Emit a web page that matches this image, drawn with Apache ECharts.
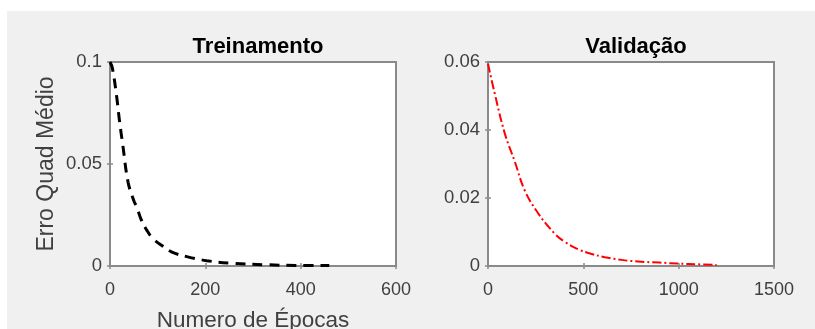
<!DOCTYPE html>
<html>
<head>
<meta charset="utf-8">
<script src="https://cdn.jsdelivr.net/npm/echarts@6/dist/echarts.min.js"></script>
<style>
html,body{margin:0;padding:0;background:#fff;}
#chart{width:815px;height:329px;}
</style>
</head>
<body>
<div id="chart"></div>
<script>
// Training (Treinamento) curve
var trainEpochs = [0, 5, 14, 20, 27, 38, 50, 56, 65, 77, 90, 112, 130, 161, 203, 259, 329, 390, 460];
var trainMse    = [0.100, 0.097, 0.083, 0.071, 0.059, 0.041, 0.032, 0.029, 0.023, 0.0176, 0.0135, 0.0095, 0.0068, 0.0046, 0.0026, 0.0013, 0.0006, 0.0003, 0.0002];
// Validation (Validação) curve
var valEpochs = [0, 35, 88, 140, 193, 263, 350, 400, 473, 540, 613, 700, 788, 900, 998, 1100, 1199];
var valMse    = [0.0595, 0.0508, 0.039, 0.0308, 0.0222, 0.0155, 0.0095, 0.0072, 0.0049, 0.0036, 0.0026, 0.0018, 0.0013, 0.0010, 0.0007, 0.0005, 0.0003];

var titles = ['Treinamento', 'Validação'];
var xLabel = 'Numero de Épocas';
var yLabel = 'Erro Quad Médio';
var xRanges = [[0, 600, 200], [0, 1500, 500]];
var yRanges = [[0, 0.1, 0.05], [0, 0.06, 0.02]];

var FONT = "'Liberation Sans', Arial, Helvetica, sans-serif";
var boxColor = '#8a8a8a';
var textColor = '#404040';

var grids = [
  {left: 110, top: 62, width: 286, height: 204},
  {left: 488, top: 62, width: 286, height: 204}
];

function pairs(xs, ys) { return xs.map(function (x, i) { return [x, ys[i]]; }); }
function plain(v) { return String(v); }

var xAxes = [], yAxes = [];
grids.forEach(function (g, i) {
  var xr = xRanges[i], yr = yRanges[i];
  xAxes.push({
    type: 'value', gridIndex: i, position: 'bottom',
    min: xr[0], max: xr[1], interval: xr[2],
    axisLine: {show: false},
    axisTick: {show: true, inside: true, length: 3, lineStyle: {color: boxColor, width: 1.5}},
    splitLine: {show: false},
    axisLabel: {color: textColor, fontSize: 18, fontFamily: FONT, margin: 15, formatter: plain},
    name: i === 0 ? xLabel : '',
    nameLocation: 'middle', nameGap: 43,
    nameTextStyle: {color: textColor, fontSize: 22.5, fontFamily: FONT}
  });
  xAxes.push({
    type: 'value', gridIndex: i, position: 'top',
    min: xr[0], max: xr[1], interval: xr[2],
    axisLine: {show: false},
    axisTick: {show: true, inside: true, length: 3, lineStyle: {color: boxColor, width: 1.5}},
    splitLine: {show: false}, axisLabel: {show: false}
  });
  yAxes.push({
    type: 'value', gridIndex: i, position: 'left',
    min: yr[0], max: yr[1], interval: yr[2],
    axisLine: {show: false},
    axisTick: {show: true, inside: true, length: 3, lineStyle: {color: boxColor, width: 1.5}},
    splitLine: {show: false},
    axisLabel: {color: textColor, fontSize: 18.5, fontFamily: FONT, margin: 8, formatter: plain,
                padding: [6, 0, 0, 0]},
    name: i === 0 ? yLabel : '',
    nameLocation: 'middle', nameGap: 52,
    nameTextStyle: {color: textColor, fontSize: 23, fontFamily: FONT}
  });
  yAxes.push({
    type: 'value', gridIndex: i, position: 'right',
    min: yr[0], max: yr[1], interval: yr[2],
    axisLine: {show: false},
    axisTick: {show: true, inside: true, length: 3, lineStyle: {color: boxColor, width: 1.5}},
    splitLine: {show: false}, axisLabel: {show: false}
  });
});

var chart = echarts.init(document.getElementById('chart'), null, {renderer: 'canvas'});
chart.setOption({
  backgroundColor: '#ffffff',
  animation: false,
  graphic: [{
    type: 'rect', z: -10, silent: true,
    shape: {x: 7, y: 11, width: 815 - 7, height: 329 - 11},
    style: {fill: '#f0f0f0'}
  }],
  title: [
    {text: titles[0], left: 253, top: 31, textAlign: 'center',
     textStyle: {fontSize: 22, fontWeight: 'bold', color: '#000', fontFamily: FONT}},
    {text: titles[1], left: 631, top: 31, textAlign: 'center',
     textStyle: {fontSize: 22, fontWeight: 'bold', color: '#000', fontFamily: FONT}}
  ],
  grid: grids.map(function (g) {
    return Object.assign({show: true, backgroundColor: '#ffffff', borderColor: boxColor, borderWidth: 2,
      containLabel: false, outerBoundsMode: 'none'}, g);
  }),
  xAxis: xAxes,
  yAxis: yAxes,
  series: [
    {
      type: 'line', xAxisIndex: 0, yAxisIndex: 0,
      data: pairs(trainEpochs, trainMse),
      smooth: 0.4, showSymbol: false, clip: true,
      lineStyle: {color: '#000000', width: 3, type: [10, 7]}
    },
    {
      type: 'line', xAxisIndex: 2, yAxisIndex: 2,
      data: pairs(valEpochs, valMse),
      smooth: 0.4, showSymbol: false, clip: true,
      lineStyle: {color: '#ff0000', width: 2, type: [9, 3, 2, 3]}
    }
  ]
});
</script>
</body>
</html>
